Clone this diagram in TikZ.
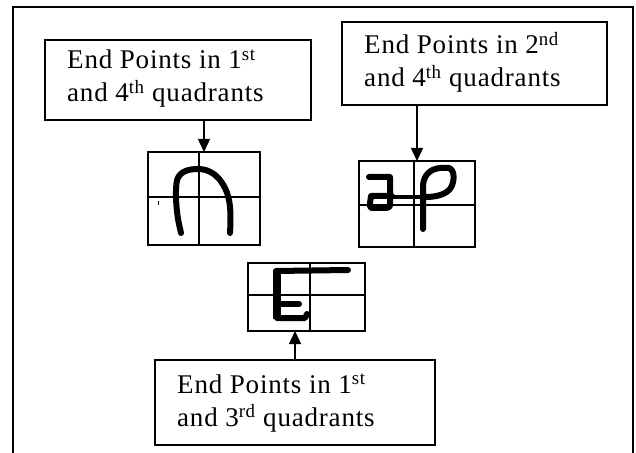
\documentclass[tikz,border=0pt]{standalone}
\usepackage{fontspec}
\setmainfont{Liberation Serif}[LetterSpace=3]
\usetikzlibrary{arrows.meta}
\begin{document}
\begin{tikzpicture}[x=1bp,y=-1bp,
  frame/.style={line width=2bp},
  box/.style={draw,line width=1.6bp,rectangle,inner sep=0pt,outer sep=0pt},
  gridbox/.style={draw,line width=1.3bp,rectangle,inner sep=0pt,outer sep=0pt},
  gl/.style={line width=1.1bp},
  lbl/.style={font=\fontsize{27bp}{30bp}\selectfont,anchor=base west,inner sep=0pt},
  arr/.style={line width=1.4bp,-{Triangle[length=13bp,width=12bp]}},
  hw/.style={line width=6bp,line cap=round,line join=round}]
\useasboundingbox (0,0) rectangle (636,453);
% outer frame (open at the bottom)
\draw[frame] (12.5,453) -- (12.5,7) -- (633,7) -- (633,453);

% label boxes
\node[box,minimum width=266bp,minimum height=80bp,anchor=north west] (b1) at (45,40) {};
\node[lbl] (t1a) at (67,69) {End Points in 1\textsuperscript{st}};
\node[lbl] (t1b) at (67,102) {and 4\textsuperscript{th} quadrants};

\node[box,minimum width=265bp,minimum height=83bp,anchor=north west] (b2) at (342,22) {};
\node[lbl] (t2a) at (364,54) {End Points in 2\textsuperscript{nd}};
\node[lbl] (t2b) at (364,87) {and 4\textsuperscript{th} quadrants};

\node[box,minimum width=280bp,minimum height=85bp,anchor=north west] (b3) at (155,360) {};
\node[lbl] (t3a) at (177,393) {End Points in 1\textsuperscript{st}};
\node[lbl] (t3b) at (177,426) {and 3\textsuperscript{rd} quadrants};

% grids
\node[gridbox,minimum width=112bp,minimum height=93bp,anchor=north west] (g1) at (148,152) {};
\draw[gl] (199,152) -- (199,245);
\draw[gl] (148,197) -- (260,197);

\node[gridbox,minimum width=116bp,minimum height=86bp,anchor=north west] (g2) at (359,161) {};
\draw[gl] (414,161) -- (414,247);
\draw[gl] (359,205) -- (475,205);

\node[gridbox,minimum width=117bp,minimum height=68bp,anchor=north west] (g3) at (248,263) {};
\draw[gl] (310,263) -- (310,331);
\draw[gl] (248,295) -- (365,295);

% arrows
\draw[arr] (b1.south -| g1.north) -- (g1.north);
\draw[arr] (b2.south -| g2.north) -- (g2.north);
\draw[arr] (b3.north) -- (b3.north |- g3.south);

% handwritten strokes
\draw[hw] (181,233) -- (179,224) .. controls (176,210) and (175,190) .. (177,180)
  .. controls (180,171) and (189,169) .. (198,169)
  .. controls (210,169) and (219,176) .. (225,188)
  .. controls (231,200) and (231,215) .. (230,233);
\draw[line width=1bp] (158,201) -- (158,205);

\draw[hw] (369,177) -- (390,177) -- (390,203) .. controls (390,207) .. (386,208)
  -- (375,208) .. controls (370,208) .. (370,203) -- (371,196) -- (392,196);
\draw[line width=3.5bp] (390,197) -- (428,197);
\draw[hw] (423,229) -- (423,185) .. controls (424,175) and (430,169) .. (440,168)
  -- (449,168) .. controls (455,170) and (455,182) .. (450,189)
  .. controls (445,195) and (435,197) .. (426,197);

\draw[hw] (276,271) -- (348,270);
\draw[line width=8bp] (277,270) -- (277,319);
\draw[hw] (277,304) -- (299,304);
\draw[hw] (277,318) -- (305,318) -- (307,314);
\end{tikzpicture}
\end{document}
